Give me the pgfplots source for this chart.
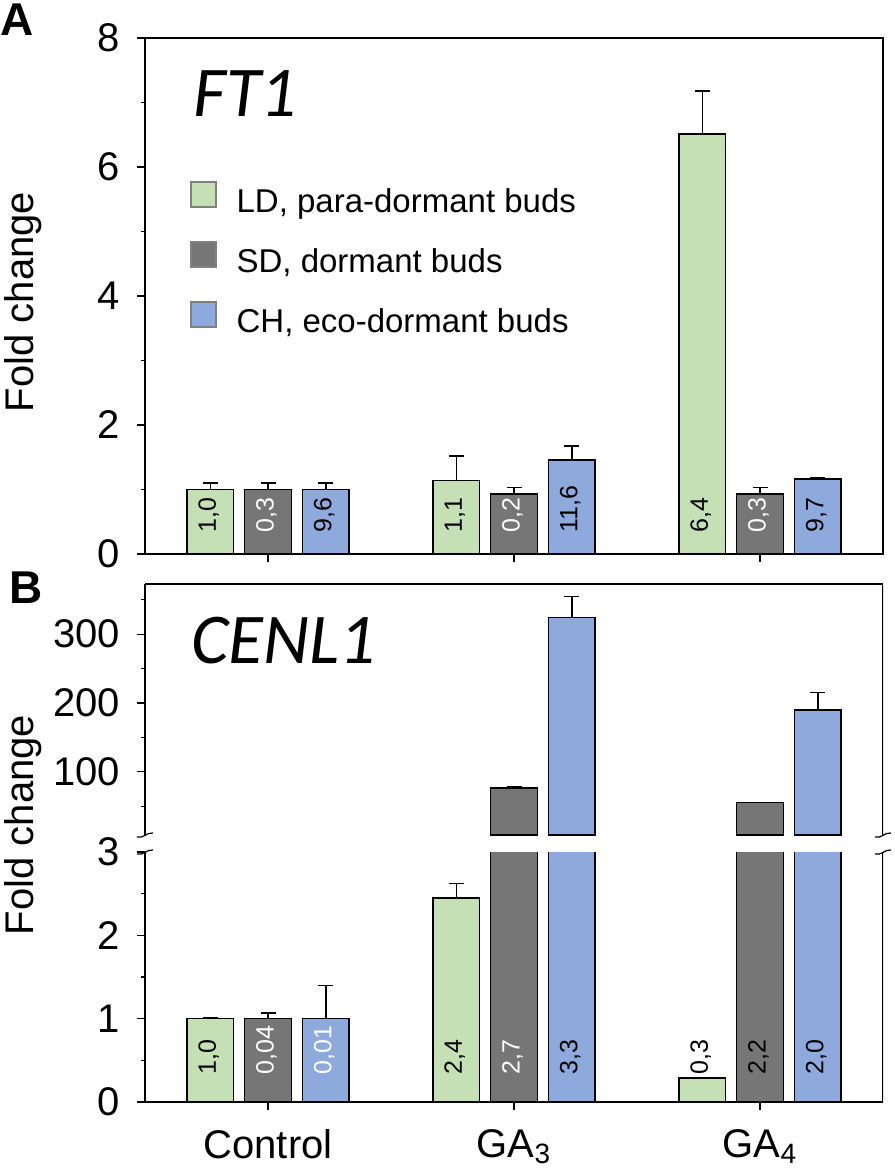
\documentclass[border=0pt]{standalone}
\usepackage{pgfplots}
\pgfplotsset{compat=1.18}
\usepackage{pgfplotstable}
\usepackage{fontspec}
\setmainfont{Liberation Sans}
\newfontfamily\genefont{Carlito}

\definecolor{ldgreen}{RGB}{197,224,180}
\definecolor{sdgray}{RGB}{118,118,118}
\definecolor{chblue}{RGB}{142,169,219}

% FT1: mean and upper error, per group (0 Control, 1 GA3, 2 GA4)
\pgfplotstableread{
x LD LDe SD SDe CH CHe
0 1.00 0.10 1.00 0.10 1.00 0.10
1 1.14 0.38 0.93 0.10 1.46 0.21
2 6.51 0.67 0.93 0.10 1.16 0.02
}\ftone

% CENL1
\pgfplotstableread{
x LD LDe SD SDe CH CHe
0 1.00 0.01 1.00 0.07 1.00 0.40
1 2.45 0.17 76.7 1.0 324 31
2 0.29 0 55.5 0 190 25
}\cenl

\pgfplotsset{
  panel/.style={
    scale only axis, width=369pt, xmin=-0.5, xmax=2.5,
    axis line style={line width=0.6pt},
    major tick length=4pt, minor tick length=2pt,
    tick style={line width=0.6pt, black},
    ticklabel style={font=\fontsize{20}{24}\selectfont},
    yticklabel style={xshift=-5pt},
    /pgf/number format/assume math mode=true,
  },
  bars/.style={
    ybar, bar width=23.35pt, draw=black, line width=0.8pt, fill=#1,
    legend image code/.code={
      \fill[##1] (0pt,2.65pt) rectangle (12.5pt,15.15pt);
      \draw[draw=gray, line width=0.8pt] (0pt,2.65pt) rectangle (12.5pt,15.15pt);
    },
  },
  errs/.style={
    forget plot, draw=none, mark=none,
    /pgfplots/error bars/y dir=plus,
    /pgfplots/error bars/y explicit,
    /pgfplots/error bars/error mark=|,
    /pgfplots/error bars/error bar style={line width=0.8pt, draw=black},
    /pgfplots/error bars/error mark options={line width=0.8pt, mark size=3.75pt, draw=black},
  },
  labs/.style={
    forget plot, draw=none, mark=none, nodes near coords,
    point meta=explicit symbolic,
    nodes near coords style={rotate=90, anchor=west, inner ysep=0pt,
      font=\fontsize{12.5}{15}\selectfont, text height=0.72em, text depth=0.16em, text=#1},
  },
}

\begin{document}
\begin{tikzpicture}
\path[use as bounding box] (0,0) rectangle (447pt,-588pt);

% ---------- A: FT1
\begin{axis}[panel, at={(72.5pt,-277pt)}, anchor=south west, height=258pt,
  ymin=0, ymax=8, ytick={0,2,4,6,8}, minor ytick={1,3,5,7},
  xtick={0,1,2}, xticklabels={}, xtick pos=bottom, ytick pos=left,
  tick align=outside,
  every node near coord/.append style={inner xsep=10.5pt},
  legend style={at={(0.061,0.7227)}, anchor=north west, draw=none, fill=none,
    inner sep=0pt, outer sep=0pt, row sep=14.55pt, column sep=10pt,
    font=\fontsize{16.5}{19}\selectfont, cells={anchor=base west},
    nodes={inner sep=0pt, text height=15.2pt, text depth=0pt}},
]
\addplot[bars=ldgreen, bar shift=-28.85pt] table[x=x, y=LD] {\ftone};
\addplot[bars=sdgray, bar shift=0pt] table[x=x, y=SD] {\ftone};
\addplot[bars=chblue, bar shift=28.85pt] table[x=x, y=CH] {\ftone};
\legend{{LD, para-dormant buds}, {SD, dormant buds}, {CH, eco-dormant buds}}
\addplot[errs] table[x expr=\thisrow{x}-0.23455, y=LD, y error=LDe] {\ftone};
\addplot[errs] table[x=x, y=SD, y error=SDe] {\ftone};
\addplot[errs] table[x expr=\thisrow{x}+0.23455, y=CH, y error=CHe] {\ftone};
\addplot[labs=black] table[x=x, y=y, meta=t] {
x y t
-0.23455 0 1,0
0.23455 0 9,6
0.76545 0 1,1
1.23455 0 11,6
1.76545 0 6,4
2.23455 0 9,7
};
\addplot[labs=white] table[x=x, y=y, meta=t] {
x y t
0 0 0,3
1 0 0,2
2 0 0,3
};
\end{axis}

% ---------- B: CENL1, upper part (only bars that reach past the break)
\begin{axis}[panel, at={(72.5pt,-417.5pt)}, anchor=south west, height=125.5pt,
  ymin=8, ymax=373, ytick={100,200,300}, minor ytick={50,150,250,350},
  axis x line*=top, axis y line*=left, xtick=\empty,
  tick align=outside,
]
\addplot[bars=sdgray, bar shift=0pt, restrict y to domain=8:1000] table[x=x, y=SD] {\cenl};
\addplot[bars=chblue, bar shift=28.85pt, restrict y to domain=8:1000] table[x=x, y=CH] {\cenl};
\addplot[errs, restrict y to domain=8:1000] table[x=x, y=SD, y error=SDe] {\cenl};
\addplot[errs, restrict y to domain=8:1000] table[x expr=\thisrow{x}+0.23455, y=CH, y error=CHe] {\cenl};
\draw[line width=0.6pt] (rel axis cs:1,0) -- (rel axis cs:1,1);
\end{axis}

% ---------- B: lower part
\begin{axis}[panel, at={(72.5pt,-551pt)}, anchor=south west, height=125pt,
  ymin=0, ymax=3, ytick={0,1,2,3}, minor ytick={0.5,1.5,2.5},
  axis x line*=bottom, axis y line*=left,
  xtick={0,1,2}, xticklabels={Control, GA\textsubscript{3}, GA\textsubscript{4}},
  xticklabel style={yshift=-6pt},
  tick align=outside,
  every node near coord/.append style={inner xsep=13.5pt},
]
\addplot[bars=ldgreen, bar shift=-28.85pt] table[x=x, y=LD] {\cenl};
\addplot[bars=sdgray, bar shift=0pt] table[x=x, y=SD] {\cenl};
\addplot[bars=chblue, bar shift=28.85pt] table[x=x, y=CH] {\cenl};
\addplot[errs] table[x expr=\thisrow{x}-0.23455, y=LD, y error=LDe] {\cenl};
\addplot[errs] table[x=x, y=SD, y error=SDe] {\cenl};
\addplot[errs] table[x expr=\thisrow{x}+0.23455, y=CH, y error=CHe] {\cenl};
\addplot[labs=black] table[x=x, y=y, meta=t] {
x y t
-0.23455 0 1,0
0.76545 0 2,4
1.23455 0 3,3
1.76545 0 0,3
2 0 2,2
2.23455 0 2,0
};
\addplot[labs=white] table[x=x, y=y, meta=t] {
x y t
0 0 0,04
0.23455 0 0,01
1 0 2,7
};
\draw[line width=0.6pt] (rel axis cs:1,0) -- (rel axis cs:1,1);
\end{axis}

% axis break marks
\foreach \xx in {72.5pt,441.5pt}{
  \draw[line width=0.6pt] (\xx-4pt,-418.5pt) .. controls (\xx-1pt,-419.5pt) and (\xx+1pt,-416pt) .. (\xx+4pt,-416.5pt);
  \draw[line width=0.6pt] (\xx-4pt,-427pt) .. controls (\xx-1pt,-428pt) and (\xx+1pt,-424.5pt) .. (\xx+4pt,-425pt);
}

% panel letters, gene names, axis titles
\node[anchor=base west, inner sep=0pt, font=\bfseries\fontsize{23}{27}\selectfont] at (0pt,-18pt) {A};
\node[anchor=base west, inner sep=0pt, font=\bfseries\fontsize{23}{27}\selectfont] at (4.5pt,-301.5pt) {B};
\node[anchor=base west, inner sep=0pt, font=\genefont\itshape\fontsize{35.7}{40}\selectfont] at (96.5pt,-58.5pt) {FT1};
\node[anchor=base west, inner sep=0pt, font=\genefont\itshape\fontsize{35.7}{40}\selectfont] at (95.5pt,-331.5pt) {CENL1};
\node[rotate=90, anchor=base, inner sep=0pt, font=\fontsize{20}{24}\selectfont] at (16.5pt,-151pt) {Fold change};
\node[rotate=90, anchor=base, inner sep=0pt, font=\fontsize{20}{24}\selectfont] at (16.5pt,-412.5pt) {Fold change};
\end{tikzpicture}
\end{document}
